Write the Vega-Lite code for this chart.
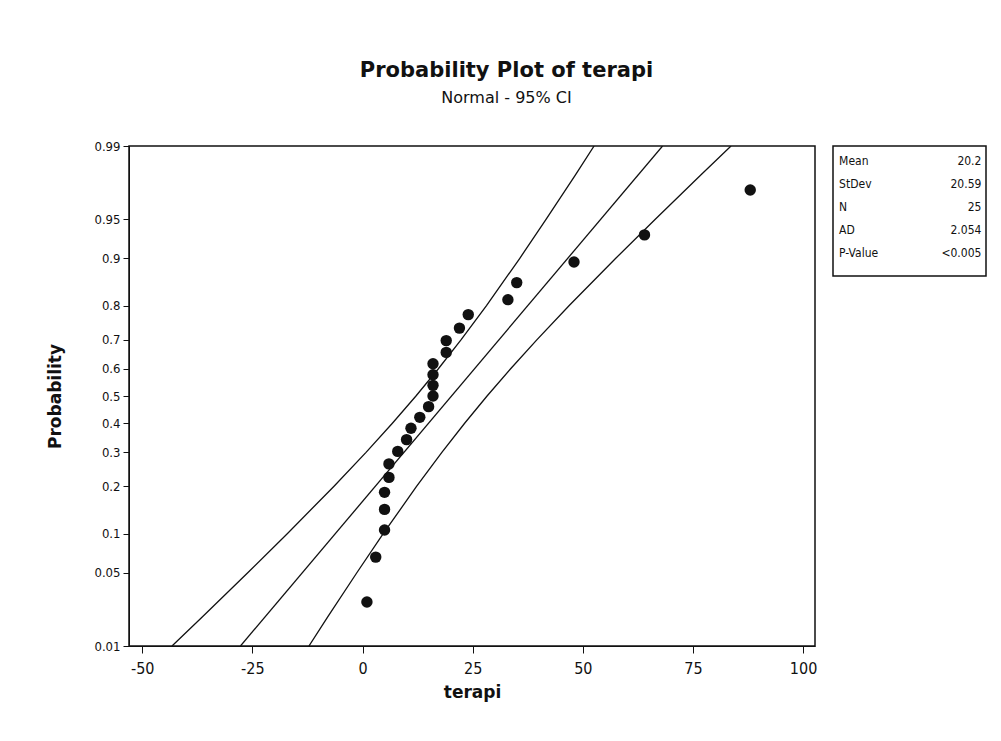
{
  "$schema": "https://vega.github.io/schema/vega-lite/v6.json",
  "padding": {"left": 46, "top": 60, "right": 10, "bottom": 10},
  "background": "white",
  "title": {
    "text": "Probability Plot of terapi",
    "subtitle": "Normal - 95% CI",
    "anchor": "middle",
    "dx": -10,
    "font": "DejaVu Sans",
    "fontSize": 21,
    "fontWeight": "bold",
    "color": "#111",
    "subtitleFont": "DejaVu Sans",
    "subtitleFontSize": 16,
    "subtitleColor": "#111",
    "subtitlePadding": 9,
    "offset": 33
  },
  "config": {
    "view": {"stroke": "#111", "strokeWidth": 1.5},
    "axis": {
      "grid": false,
      "domainColor": "#111",
      "tickColor": "#111",
      "labelColor": "#111",
      "titleColor": "#111",
      "labelFont": "DejaVu Sans Condensed, DejaVu Sans",
      "titleFont": "DejaVu Sans"
    }
  },
  "datasets": {
    "points": [
      {"rank": 1, "p": 0.0276, "terapi": 1},
      {"rank": 2, "p": 0.0669, "terapi": 3},
      {"rank": 3, "p": 0.1063, "terapi": 5},
      {"rank": 4, "p": 0.1457, "terapi": 5},
      {"rank": 5, "p": 0.1850, "terapi": 5},
      {"rank": 6, "p": 0.2244, "terapi": 6},
      {"rank": 7, "p": 0.2638, "terapi": 6},
      {"rank": 8, "p": 0.3031, "terapi": 8},
      {"rank": 9, "p": 0.3425, "terapi": 10},
      {"rank": 10, "p": 0.3819, "terapi": 11},
      {"rank": 11, "p": 0.4213, "terapi": 13},
      {"rank": 12, "p": 0.4606, "terapi": 15},
      {"rank": 13, "p": 0.5000, "terapi": 16},
      {"rank": 14, "p": 0.5394, "terapi": 16},
      {"rank": 15, "p": 0.5787, "terapi": 16},
      {"rank": 16, "p": 0.6181, "terapi": 16},
      {"rank": 17, "p": 0.6575, "terapi": 19},
      {"rank": 18, "p": 0.6969, "terapi": 19},
      {"rank": 19, "p": 0.7362, "terapi": 22},
      {"rank": 20, "p": 0.7756, "terapi": 24},
      {"rank": 21, "p": 0.8150, "terapi": 33},
      {"rank": 22, "p": 0.8543, "terapi": 35},
      {"rank": 23, "p": 0.8937, "terapi": 48},
      {"rank": 24, "p": 0.9331, "terapi": 64},
      {"rank": 25, "p": 0.9724, "terapi": 88}
    ],
    "lines": [
      {"series": "fit", "p": 0.01, "terapi": -27.70},
      {"series": "fit", "p": 0.99, "terapi": 68.10},
      {"series": "lower", "p": 0.01, "terapi": -43.24},
      {"series": "lower", "p": 0.02, "terapi": -36.32},
      {"series": "lower", "p": 0.05, "terapi": -26.05},
      {"series": "lower", "p": 0.10, "terapi": -17.08},
      {"series": "lower", "p": 0.20, "terapi": -6.52},
      {"series": "lower", "p": 0.30, "terapi": 0.80},
      {"series": "lower", "p": 0.40, "terapi": 6.78},
      {"series": "lower", "p": 0.50, "terapi": 12.13},
      {"series": "lower", "p": 0.60, "terapi": 17.22},
      {"series": "lower", "p": 0.70, "terapi": 22.39},
      {"series": "lower", "p": 0.80, "terapi": 28.14},
      {"series": "lower", "p": 0.90, "terapi": 35.70},
      {"series": "lower", "p": 0.95, "terapi": 41.69},
      {"series": "lower", "p": 0.98, "terapi": 48.26},
      {"series": "lower", "p": 0.99, "terapi": 52.56},
      {"series": "upper", "p": 0.01, "terapi": -12.16},
      {"series": "upper", "p": 0.02, "terapi": -7.86},
      {"series": "upper", "p": 0.05, "terapi": -1.29},
      {"series": "upper", "p": 0.10, "terapi": 4.70},
      {"series": "upper", "p": 0.20, "terapi": 12.26},
      {"series": "upper", "p": 0.30, "terapi": 18.01},
      {"series": "upper", "p": 0.40, "terapi": 23.18},
      {"series": "upper", "p": 0.50, "terapi": 28.27},
      {"series": "upper", "p": 0.60, "terapi": 33.62},
      {"series": "upper", "p": 0.70, "terapi": 39.61},
      {"series": "upper", "p": 0.80, "terapi": 46.92},
      {"series": "upper", "p": 0.90, "terapi": 57.48},
      {"series": "upper", "p": 0.95, "terapi": 66.45},
      {"series": "upper", "p": 0.98, "terapi": 76.72},
      {"series": "upper", "p": 0.99, "terapi": 83.64}
    ],
    "stats": [
      {"stat": "Mean", "value": "20.2"},
      {"stat": "StDev", "value": "20.59"},
      {"stat": "N", "value": "25"},
      {"stat": "AD", "value": "2.054"},
      {"stat": "P-Value", "value": "<0.005"}
    ]
  },
  "hconcat": [
    {
      "width": 686,
      "height": 500,
      "layer": [
        {
          "data": {"name": "lines"},
          "transform": [{"calculate": "quantileNormal(datum.p)", "as": "z"}],
          "mark": {"type": "line", "color": "#111", "strokeWidth": 1.3, "clip": true},
          "encoding": {
            "x": {"field": "terapi", "type": "quantitative"},
            "y": {"field": "z", "type": "quantitative"},
            "detail": {"field": "series"},
            "order": {"field": "p"}
          }
        },
        {
          "data": {"name": "points"},
          "transform": [{"calculate": "quantileNormal(datum.p)", "as": "z"}],
          "mark": {"type": "circle", "color": "#111", "opacity": 1, "size": 130},
          "encoding": {
            "x": {
              "field": "terapi",
              "type": "quantitative",
              "title": "terapi",
              "scale": {"domain": [-53, 102.7], "nice": false, "zero": false},
              "axis": {
                "values": [-50, -25, 0, 25, 50, 75, 100],
                "labelExpr": "'' + datum.value",
                "tickSize": 7,
                "labelFontSize": 16,
                "labelPadding": 7,
                "titleFontSize": 17,
                "titleFontWeight": "bold",
                "titlePadding": 8
              }
            },
            "y": {
              "field": "z",
              "type": "quantitative",
              "title": "Probability",
              "scale": {"domain": [-2.3263, 2.3263], "nice": false, "zero": false},
              "axis": {
                "values": [-2.3263, -1.6449, -1.2816, -0.8416, -0.5244, -0.2533, 0, 0.2533, 0.5244, 0.8416, 1.2816, 1.6449, 2.3263],
                "labelExpr": "format(cumulativeNormal(datum.value), '.2~f')",
                "tickSize": 6,
                "labelFontSize": 13,
                "labelPadding": 3,
                "titleFontSize": 17,
                "titleFontWeight": "bold",
                "titlePadding": 29
              }
            }
          }
        }
      ]
    },
    {
      "width": 153,
      "height": 130,
      "data": {"name": "stats"},
      "encoding": {
        "y": {"field": "stat", "type": "nominal", "sort": null, "axis": null, "scale": {"type": "point", "padding": 0.8}}
      },
      "layer": [
        {
          "mark": {"type": "text", "align": "left", "baseline": "alphabetic", "fontSize": 12, "font": "DejaVu Sans Condensed, DejaVu Sans", "color": "#111"},
          "encoding": {
            "x": {"datum": 0.04, "type": "quantitative", "scale": {"domain": [0, 1], "nice": false}, "axis": null},
            "text": {"field": "stat"}
          }
        },
        {
          "mark": {"type": "text", "align": "right", "baseline": "alphabetic", "fontSize": 12, "font": "DejaVu Sans Condensed, DejaVu Sans", "color": "#111"},
          "encoding": {
            "x": {"datum": 0.97, "type": "quantitative"},
            "text": {"field": "value"}
          }
        }
      ]
    }
  ],
  "spacing": 14
}
